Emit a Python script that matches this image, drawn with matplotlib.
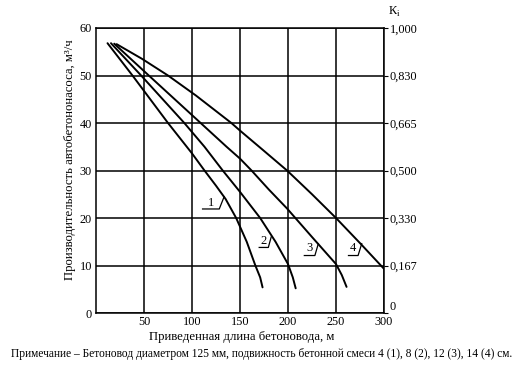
import matplotlib
matplotlib.use('Agg')
import matplotlib.pyplot as plt

plt.rcParams['font.family'] = ['Liberation Serif', 'DejaVu Serif']

# ---- data ----
c1_x = [12, 38, 75, 100, 113, 125, 135, 146, 157, 166, 171, 173.5]
c1_y = [56.8, 50, 40, 33.6, 30, 26.8, 24.0, 20, 15, 10, 7.5, 5.4]

c2_x = [15.6, 47, 92, 113, 132, 150, 171, 187, 200, 205, 208]
c2_y = [56.8, 50, 40, 35, 30, 25.5, 20, 15, 10.3, 7.5, 5.2]

c3_x = [19, 55, 82, 109, 136, 150, 162, 180, 199, 225, 250, 256, 261]
c3_y = [56.7, 50, 45, 40, 35, 32.5, 30, 26, 22, 16, 10.3, 8, 5.5]

c4_x = [21.5, 48, 75, 104, 141, 150, 174, 199, 225, 250, 276, 300]
c4_y = [56.6, 53.5, 50, 45.8, 40, 38.4, 34.3, 30, 25, 20, 14.5, 9.3]

curve_labels = ['1', '2', '3', '4']
# label digit position, underline span, leader end (data coords)
label_pos = [(119.5, 23.2), (175, 15.2), (222, 13.6), (268, 13.6)]
underline = [((111, 128.4), 21.9), ((170, 179.5), 13.8), ((217, 228), 12.1), ((263, 273), 12.1)]
leader_end = [(133.5, 24.5), (182.5, 16.0), (231.6, 14.6), (276.8, 14.6)]

x_ticks = [50, 100, 150, 200, 250, 300]
y_ticks = [0, 10, 20, 30, 40, 50, 60]
k_labels = ['0', '0,167', '0,330', '0,500', '0,665', '0,830', '1,000']

W, H = 523, 376
fig = plt.figure(figsize=(W / 100, H / 100), dpi=100)
L, R, T, B = 96, 384, 28, 313
ax = fig.add_axes([L / W, 1 - B / H, (R - L) / W, (B - T) / H])

ax.set_xlim(0, 300)
ax.set_ylim(0, 60)

for xs, ys in [(c1_x, c1_y), (c2_x, c2_y), (c3_x, c3_y), (c4_x, c4_y)]:
    ax.plot(xs, ys, color='black', lw=1.4, solid_capstyle='round', solid_joinstyle='round')

for lab, (lx, ly), ((u0, u1), uy), (ex, ey) in zip(curve_labels, label_pos, underline, leader_end):
    ax.text(lx, ly, lab, fontsize=9, ha='center', va='center')
    ax.plot([u0, u1, ex], [uy, uy, ey], color='black', lw=0.9)

ax.set_xticks(x_ticks)
ax.set_yticks(y_ticks)
ax.grid(True, color='black', lw=1.1)
for s in ax.spines.values():
    s.set_linewidth(1.1)
ax.tick_params(axis='both', length=0, labelsize=8.8)
ax.tick_params(axis='x', pad=2)
ax.tick_params(axis='y', pad=3)

ax2 = ax.twinx()
ax2.set_ylim(0, 60)
ax2.set_yticks(y_ticks)
ax2.set_yticklabels(k_labels)
ax2.tick_params(axis='y', length=3, direction='out', labelsize=8.8, pad=1)
ax2.get_yticklabels()[0].set_va('bottom')
for s in ax2.spines.values():
    s.set_visible(False)

fig.text(388 / W, 1 - 12 / H, r'К$_\mathregular{i}$', fontsize=9, ha='left', va='center')

fig.text(242 / W, 1 - 337 / H, 'Приведенная длина бетоновода, м', fontsize=9.2,
         ha='center', va='center')
fig.text(70 / W, 1 - 160 / H, 'Производительность автобетононасоса, м³/ч', fontsize=9.2,
         rotation=90, ha='center', va='center')
fig.text(262 / W, 1 - 354 / H,
         'Примечание – Бетоновод диаметром 125 мм, подвижность бетонной смеси 4 (1), 8 (2), 12 (3), 14 (4) см.',
         fontsize=8.3, ha='center', va='center')

fig.savefig('out.png', dpi=100, facecolor='white')
